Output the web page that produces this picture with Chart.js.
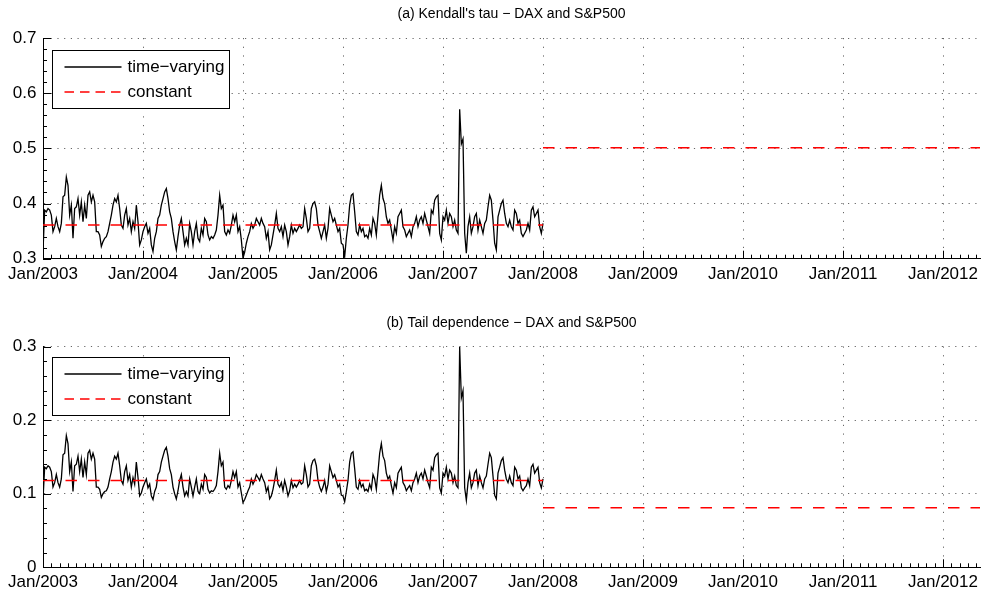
<!DOCTYPE html>
<html>
<head>
<meta charset="utf-8">
<script src="https://cdn.jsdelivr.net/npm/chart.js@4.4.1/dist/chart.umd.min.js"></script>
<style>
  html, body { margin: 0; padding: 0; background: #fff; }
  #wrap { position: relative; width: 985px; height: 599px; }
  .panel { position: absolute; left: 0; width: 985px; }
</style>
</head>
<body>
<div id="wrap">
  <div class="panel" style="top:0;height:300px"><canvas id="tauChart"></canvas></div>
  <div class="panel" style="top:300px;height:299px"><canvas id="tailChart"></canvas></div>
</div>
<script>
// x axis: years, ticks at 1 January
const yearTicks = [2003, 2004, 2005, 2006, 2007, 2008, 2009, 2010, 2011, 2012];
const yearLabels = yearTicks.map(y => 'Jan/' + y);
const xStart = 2003;
const xEnd = 2012.37;

const tauTicks = [0.3, 0.4, 0.5, 0.6, 0.7];
const tailTicks = [0, 0.1, 0.2, 0.3];

// time-varying estimates, one array per calendar year (evenly spaced within the year)
const sampleYears = [2003, 2004, 2005, 2006, 2007];

const tau2003 = [0.313,0.388,0.385,0.391,0.388,0.379,0.349,0.358,0.373,0.358,
  0.349,0.364,0.412,0.415,0.448,0.433,0.379,0.397,0.337,0.391,
  0.394,0.409,0.379,0.403,0.367,0.397,0.373,0.415,0.421,0.403,
  0.415,0.403,0.349,0.349,0.343,0.322,0.331,0.337,0.340,0.349,
  0.364,0.379,0.397,0.409,0.403,0.415,0.391,0.361,0.355,0.379,
  0.391,0.361,0.373,0.349,0.367,0.355,0.397,0.367,0.325,0.334];
const tau2004 = [0.349,0.358,0.364,0.346,0.355,0.325,0.313,0.337,0.349,0.373,
  0.379,0.397,0.409,0.421,0.427,0.409,0.385,0.373,0.349,0.331,
  0.316,0.340,0.361,0.373,0.349,0.325,0.337,0.325,0.364,0.349,
  0.325,0.349,0.364,0.337,0.331,0.355,0.343,0.373,0.367,0.343,
  0.334,0.340,0.337,0.343,0.352,0.379,0.415,0.391,0.397,0.349,
  0.343,0.352,0.346,0.361,0.379,0.367,0.379,0.349,0.358,0.334];
const tau2005 = [0.301,0.312,0.328,0.340,0.349,0.364,0.355,0.361,0.373,0.367,
  0.361,0.373,0.364,0.358,0.337,0.349,0.316,0.325,0.343,0.361,
  0.382,0.355,0.349,0.358,0.340,0.361,0.349,0.325,0.340,0.361,
  0.346,0.355,0.349,0.355,0.361,0.355,0.358,0.391,0.373,0.349,
  0.355,0.391,0.400,0.403,0.391,0.361,0.349,0.337,0.349,0.361,
  0.337,0.355,0.391,0.379,0.367,0.373,0.361,0.349,0.355,0.328];
const tau2006 = [0.325,0.304,0.337,0.361,0.397,0.415,0.418,0.385,0.349,0.343,
  0.361,0.349,0.355,0.340,0.343,0.337,0.355,0.343,0.373,0.364,
  0.343,0.379,0.415,0.433,0.409,0.400,0.376,0.364,0.370,0.352,
  0.334,0.358,0.346,0.376,0.382,0.388,0.358,0.352,0.340,0.346,
  0.352,0.340,0.358,0.364,0.376,0.358,0.370,0.376,0.364,0.382,
  0.370,0.358,0.346,0.388,0.382,0.406,0.412,0.415,0.346,0.334];
const tau2007 = [0.376,0.370,0.388,0.364,0.382,0.376,0.358,0.370,0.352,0.346,
  0.571,0.508,0.517,0.346,0.310,0.358,0.376,0.346,0.358,0.376,
  0.382,0.352,0.370,0.358,0.346,0.364,0.370,0.394,0.415,0.406,
  0.370,0.328,0.316,0.376,0.388,0.400,0.406,0.382,0.364,0.358,
  0.370,0.358,0.352,0.388,0.382,0.364,0.370,0.346,0.340,0.346,
  0.352,0.364,0.352,0.388,0.394,0.376,0.382,0.388,0.358,0.346];
const tauLast = 0.364;

const tail2003 = [0.092,0.136,0.134,0.138,0.136,0.130,0.109,0.115,0.126,0.115,
  0.109,0.120,0.153,0.155,0.179,0.168,0.130,0.143,0.103,0.138,
  0.140,0.151,0.130,0.147,0.122,0.143,0.126,0.155,0.159,0.147,
  0.155,0.147,0.109,0.109,0.106,0.095,0.100,0.103,0.104,0.109,
  0.120,0.130,0.143,0.151,0.147,0.155,0.138,0.118,0.113,0.130,
  0.138,0.118,0.126,0.109,0.122,0.113,0.143,0.122,0.097,0.101];
const tail2004 = [0.109,0.115,0.120,0.108,0.113,0.097,0.092,0.103,0.109,0.126,
  0.130,0.143,0.151,0.159,0.163,0.151,0.134,0.126,0.109,0.100,
  0.093,0.104,0.118,0.126,0.109,0.097,0.103,0.097,0.120,0.109,
  0.097,0.109,0.120,0.103,0.100,0.113,0.106,0.126,0.122,0.106,
  0.101,0.104,0.103,0.106,0.111,0.130,0.155,0.138,0.143,0.109,
  0.106,0.111,0.108,0.118,0.130,0.122,0.130,0.109,0.115,0.101];
const tail2005 = [0.088,0.092,0.098,0.104,0.109,0.120,0.113,0.118,0.126,0.122,
  0.118,0.126,0.120,0.115,0.103,0.109,0.093,0.097,0.106,0.118,
  0.132,0.113,0.109,0.115,0.104,0.118,0.109,0.097,0.104,0.118,
  0.108,0.113,0.109,0.113,0.118,0.113,0.115,0.138,0.126,0.109,
  0.113,0.138,0.145,0.147,0.138,0.118,0.109,0.103,0.109,0.118,
  0.103,0.113,0.138,0.130,0.122,0.126,0.118,0.109,0.113,0.098];
const tail2006 = [0.097,0.089,0.103,0.118,0.143,0.155,0.157,0.134,0.109,0.106,
  0.118,0.109,0.113,0.104,0.106,0.103,0.113,0.106,0.126,0.120,
  0.106,0.130,0.155,0.168,0.151,0.145,0.128,0.120,0.124,0.111,
  0.101,0.115,0.108,0.128,0.132,0.136,0.115,0.111,0.104,0.108,
  0.111,0.104,0.115,0.120,0.128,0.115,0.124,0.128,0.120,0.132,
  0.124,0.115,0.108,0.136,0.132,0.149,0.153,0.155,0.108,0.101];
const tail2007 = [0.128,0.124,0.136,0.120,0.132,0.128,0.115,0.124,0.111,0.108,
  0.300,0.230,0.240,0.108,0.091,0.115,0.128,0.108,0.115,0.128,
  0.132,0.111,0.124,0.115,0.108,0.120,0.124,0.140,0.155,0.149,
  0.124,0.098,0.093,0.128,0.136,0.145,0.149,0.132,0.120,0.115,
  0.124,0.115,0.111,0.136,0.132,0.120,0.124,0.108,0.104,0.108,
  0.111,0.120,0.111,0.136,0.140,0.128,0.132,0.136,0.115,0.108];
const tailLast = 0.120;

// constant estimates: in-sample level (2003-2007) and level from 2008 on
const constBreaks = [2003, 2008, xEnd];
const tauConst = [0.361, 0.501];
const tailConst = [0.118, 0.081];

const RED = 'rgb(255,0,0)';

Chart.defaults.font.family = '"Liberation Sans", Arial, Helvetica, sans-serif';
Chart.defaults.color = '#000';

function toSeries(arrays, last) {
  const pts = [];
  arrays.forEach((vals, k) => {
    vals.forEach((v, i) => pts.push({ x: sampleYears[k] + i / vals.length, y: v }));
  });
  pts.push({ x: constBreaks[1], y: last });
  return pts;
}

function toSteps(levels) {
  return [
    { x: constBreaks[0], y: levels[0] },
    { x: constBreaks[1], y: levels[0] },
    { x: constBreaks[1], y: null },
    { x: constBreaks[1], y: levels[1] },
    { x: constBreaks[2], y: levels[1] }
  ];
}

// legend drawn as a framed box inside the axes (matlab style)
const boxLegend = {
  id: 'boxLegend',
  afterDraw(chart, args, opts) {
    const { ctx, chartArea } = chart;
    const left = Math.round(chartArea.left + opts.dx) + 0.5;
    const top = Math.round(chartArea.top + opts.dy) + 0.5;
    ctx.save();
    ctx.fillStyle = '#fff';
    ctx.fillRect(left, top, opts.width, opts.height);
    ctx.strokeStyle = '#000';
    ctx.lineWidth = 1;
    ctx.setLineDash([]);
    ctx.strokeRect(left, top, opts.width, opts.height);
    ctx.font = opts.font;
    ctx.textBaseline = 'middle';
    chart.data.datasets.forEach((ds, i) => {
      const rowY = Math.round(top + opts.firstRow + i * opts.rowGap);
      ctx.strokeStyle = ds.borderColor;
      ctx.lineWidth = ds.borderWidth;
      ctx.setLineDash(ds.borderDash ? opts.legendDash : []);
      ctx.beginPath();
      ctx.moveTo(left + opts.lineStart, rowY);
      ctx.lineTo(left + opts.lineStart + opts.lineLen, rowY);
      ctx.stroke();
      ctx.fillStyle = '#000';
      ctx.fillText(ds.label, left + opts.textStart, rowY);
    });
    ctx.restore();
  }
};

// inward major and minor tick marks
const inwardTicks = {
  id: 'inwardTicks',
  afterDatasetsDraw(chart, args, opts) {
    const { ctx, chartArea: a, scales: { x, y } } = chart;
    ctx.save();
    ctx.strokeStyle = '#000';
    ctx.lineWidth = 1;
    ctx.setLineDash([]);
    ctx.beginPath();
    for (let yr = yearTicks[0]; yr < xEnd; yr += 1 / 12) {
      const isMajor = Math.abs(yr - Math.round(yr)) < 1e-6;
      const px = Math.round(x.getPixelForValue(yr)) + 0.5;
      if (px > a.right) break;
      ctx.moveTo(px, a.bottom);
      ctx.lineTo(px, a.bottom - (isMajor ? opts.major : opts.minor));
    }
    const n = Math.round((y.max - y.min) / opts.yMinorStep);
    for (let k = 0; k <= n; k++) {
      const v = y.min + k * opts.yMinorStep;
      const isMajor = k % opts.yMinorPerMajor === 0;
      const py = Math.round(y.getPixelForValue(v)) + 0.5;
      ctx.moveTo(a.left, py);
      ctx.lineTo(a.left + (isMajor ? opts.major : opts.minor), py);
    }
    ctx.stroke();
    ctx.restore();
  }
};

function makeChart(id, titleText, tvData, constData, yTicks, box) {
  return new Chart(document.getElementById(id), {
    type: 'line',
    data: {
      datasets: [
        {
          label: 'time\u2212varying',
          data: tvData,
          borderColor: '#000',
          borderWidth: 1.3,
          pointRadius: 0,
          tension: 0,
          order: 1
        },
        {
          label: 'constant',
          data: constData,
          borderColor: RED,
          borderWidth: 1.6,
          borderDash: [11.5, 11],
          pointRadius: 0,
          spanGaps: false,
          order: 0
        }
      ]
    },
    options: {
      responsive: true,
      maintainAspectRatio: false,
      animation: false,
      events: [],
      layout: { padding: { left: 0, right: 5, top: 0, bottom: 0 } },
      scales: {
        x: {
          type: 'linear',
          min: xStart,
          max: xEnd,
          afterBuildTicks: s => { s.ticks = yearTicks.map(v => ({ value: v })); },
          afterFit: s => { s.height = box.xAxisHeight; },
          ticks: {
            autoSkip: false,
            maxRotation: 0,
            padding: 5,
            font: { size: 17 },
            color: '#000',
            callback: (v, i) => yearLabels[i]
          },
          grid: { color: '#666', lineWidth: 1, drawTicks: false },
          border: { display: true, color: '#000', width: 1, dash: [1.2, 7.5] }
        },
        y: {
          min: yTicks[0],
          max: yTicks[yTicks.length - 1],
          afterBuildTicks: s => { s.ticks = yTicks.map(v => ({ value: v })); },
          afterFit: s => { s.width = 43; },
          ticks: {
            padding: 6.5,
            font: { size: 17 },
            color: '#000',
            callback: v => String(v)
          },
          grid: { color: '#666', lineWidth: 1, drawTicks: false },
          border: { display: true, color: '#000', width: 1, dash: [1.2, 5.5] }
        }
      },
      plugins: {
        legend: { display: false },
        tooltip: { enabled: false },
        title: {
          display: true,
          text: titleText,
          fullSize: false,
          color: '#000',
          font: { size: 14, weight: 'normal' },
          padding: { top: box.titleTop, bottom: box.titleBottom }
        },
        boxLegend: {
          dx: 9, dy: box.legendDy, width: 177, height: 58,
          firstRow: 16, rowGap: 25,
          lineStart: 12, lineLen: 57, textStart: 75,
          legendDash: [9.5, 6],
          font: '17px "Liberation Sans", Arial, Helvetica, sans-serif'
        },
        inwardTicks: { major: 8, minor: 4, yMinorStep: 0.02, yMinorPerMajor: 5 }
      }
    },
    plugins: [boxLegend, inwardTicks]
  });
}

makeChart('tauChart', '(a) Kendall\'s tau \u2212 DAX and S&P500',
  toSeries([tau2003, tau2004, tau2005, tau2006, tau2007], tauLast),
  toSteps(tauConst), tauTicks,
  { xAxisHeight: 41.3, titleTop: 6, titleBottom: 15.2, legendDy: 12 });

makeChart('tailChart', '(b) Tail dependence \u2212 DAX and S&P500',
  toSeries([tail2003, tail2004, tail2005, tail2006, tail2007], tailLast),
  toSteps(tailConst), tailTicks,
  { xAxisHeight: 31.7, titleTop: 15, titleBottom: 14.7, legendDy: 10 });
</script>
</body>
</html>
